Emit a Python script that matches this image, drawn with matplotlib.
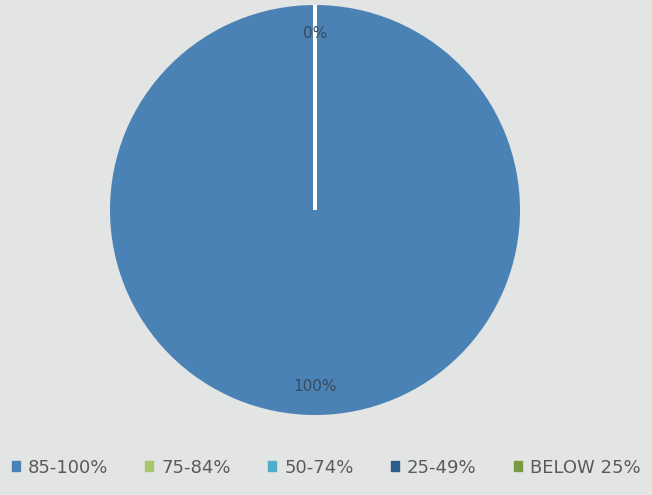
import matplotlib.pyplot as plt

categories = ["85-100%", "75-84%", "50-74%", "25-49%", "BELOW 25%"]
values = [100, 0, 0, 0, 0]
colours = ["#4a82b6", "#a9c56e", "#4fadc9", "#2a5d8c", "#7a9a42"]

fig = plt.figure(figsize=(6.52, 4.95), dpi=100)
fig.patch.set_facecolor("#e3e5e4")

ax = fig.add_axes([110 / 652, 80 / 495, 410 / 652, 410 / 495])
wedges, texts, autotexts = ax.pie(
    values,
    colors=colours,
    startangle=90,
    counterclock=False,
    autopct="%1.0f%%",
    pctdistance=0.86,
    wedgeprops=dict(linewidth=0),
    textprops=dict(color="#3a4a5a", fontsize=11),
)
# zero-size slices show up as a white radial line
for w, v in zip(wedges, values):
    if v == 0:
        w.set_edgecolor("white")
        w.set_linewidth(2.5)
# only one "0%" label is visible in the original
seen_zero = False
for t, v in zip(autotexts, values):
    if v == 0:
        if seen_zero:
            t.set_visible(False)
        seen_zero = True
ax.set_xlim(-1, 1)
ax.set_ylim(-1, 1)
ax.set_aspect("equal")

handles = [plt.Rectangle((0, 0), 1, 1, color=c) for c in colours]
fig.legend(
    handles,
    categories,
    loc="center",
    bbox_to_anchor=(0.5, 0.055),
    ncol=5,
    frameon=False,
    fontsize=13,
    handlelength=0.45,
    handleheight=0.45,
    handletextpad=0.45,
    columnspacing=2.05,
    labelcolor="#5a5a5a",
)

fig.savefig("out.png", dpi=100, facecolor=fig.get_facecolor())
